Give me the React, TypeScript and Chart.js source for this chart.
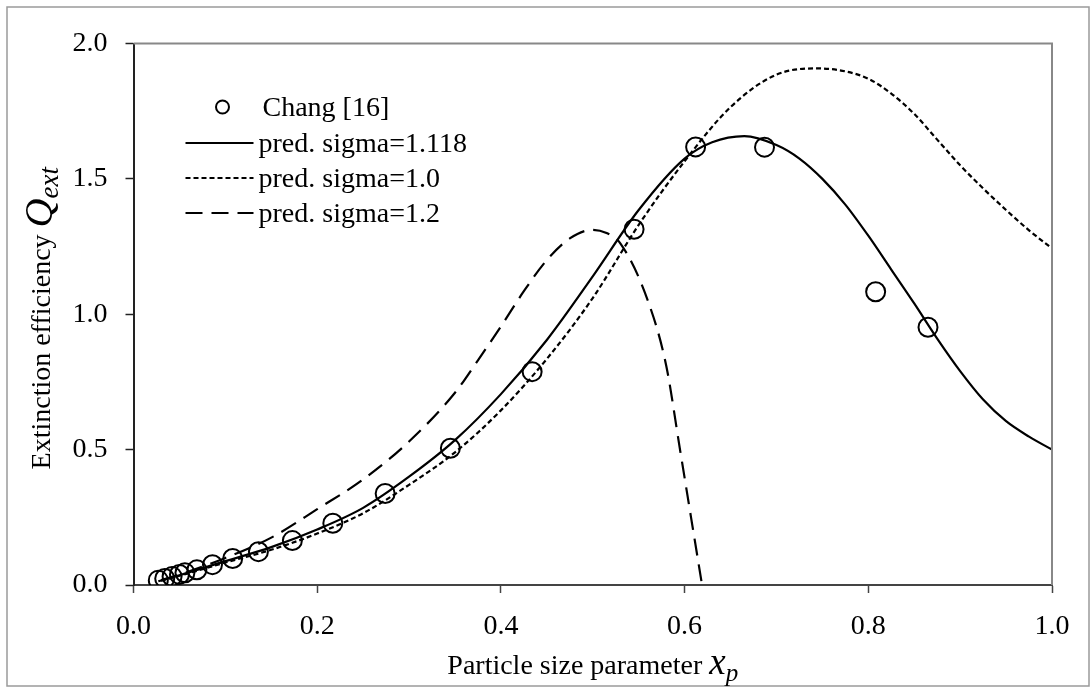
import React, { useEffect, useRef } from "react";
import { Chart, registerables } from "chart.js";

Chart.register(...registerables);

// Measured extinction efficiency (Chang [16])
const changX = [0.027, 0.034, 0.042, 0.05, 0.056, 0.069, 0.086, 0.108, 0.136, 0.173, 0.217, 0.274, 0.345, 0.434, 0.545, 0.612, 0.687, 0.808, 0.865];
const changQ = [0.018, 0.024, 0.031, 0.039, 0.045, 0.056, 0.075, 0.098, 0.123, 0.164, 0.228, 0.338, 0.505, 0.788, 1.314, 1.618, 1.617, 1.083, 0.952];

// Predicted curve, sigma = 1.118
const sig1118X = [0.027, 0.05, 0.1, 0.15, 0.2, 0.25, 0.3, 0.35, 0.4, 0.45, 0.5, 0.55, 0.6, 0.63, 0.665, 0.7, 0.725, 0.75, 0.775, 0.8, 0.825, 0.85, 0.875, 0.9, 0.925, 0.95, 0.975, 1.0];
const sig1118Q = [0.014, 0.036, 0.088, 0.14, 0.205, 0.285, 0.4, 0.535, 0.705, 0.905, 1.14, 1.385, 1.575, 1.635, 1.658, 1.625, 1.575, 1.5, 1.405, 1.29, 1.165, 1.04, 0.91, 0.79, 0.685, 0.605, 0.548, 0.5];

// Predicted curve, sigma = 1.0
const sig10X = [0.03, 0.05, 0.1, 0.15, 0.2, 0.25, 0.3, 0.35, 0.4, 0.45, 0.5, 0.55, 0.6, 0.65, 0.7, 0.745, 0.775, 0.8, 0.825, 0.85, 0.875, 0.9, 0.925, 0.95, 0.975, 1.0];
const sig10Q = [0.016, 0.034, 0.083, 0.13, 0.19, 0.265, 0.37, 0.49, 0.645, 0.835, 1.06, 1.33, 1.565, 1.765, 1.885, 1.908, 1.897, 1.87, 1.815, 1.74, 1.645, 1.55, 1.465, 1.385, 1.31, 1.243];

// Predicted curve, sigma = 1.2
const sig12X = [0.03, 0.05, 0.1, 0.15, 0.2, 0.25, 0.3, 0.35, 0.375, 0.4, 0.425, 0.45, 0.475, 0.5, 0.515, 0.53, 0.56, 0.58, 0.595, 0.607, 0.619];
const sig12Q = [0.018, 0.038, 0.1, 0.175, 0.28, 0.39, 0.53, 0.71, 0.83, 0.955, 1.085, 1.2, 1.28, 1.312, 1.3, 1.262, 1.05, 0.81, 0.5, 0.25, 0.0];

const seriesNames = ["Chang [16]", "pred. sigma=1.118", "pred. sigma=1.0", "pred. sigma=1.2"];
const xTickValues = [0, 0.2, 0.4, 0.6, 0.8, 1.0];
const yTickValues = [0, 0.5, 1.0, 1.5, 2.0];

const SERIF = '"Liberation Serif", "Times New Roman", serif';

const zip = (xs: number[], ys: number[]) => xs.map((x, i) => ({ x, y: ys[i] }));

const pagePlugin = {
  id: "pageDecor",
  beforeDraw(chart: any) {
    const { ctx, width, height } = chart;
    ctx.save();
    ctx.fillStyle = "#ffffff";
    ctx.fillRect(0, 0, width, height);
    ctx.restore();
  },
  afterDraw(chart: any) {
    const { ctx, chartArea } = chart;
    const { left, right, top, bottom } = chartArea;
    ctx.save();
    // outer frame
    ctx.strokeStyle = "#9a9a9a";
    ctx.lineWidth = 1.5;
    ctx.strokeRect(7, 7, 1082, 679);
    // plot-area border on top and right
    ctx.strokeStyle = "#888888";
    ctx.lineWidth = 2;
    ctx.beginPath();
    ctx.moveTo(left, top);
    ctx.lineTo(right, top);
    ctx.lineTo(right, bottom);
    ctx.stroke();

    ctx.fillStyle = "#000";
    ctx.textBaseline = "alphabetic";

    // x-axis title: "Particle size parameter x_p"
    const partsX = [
      { t: "Particle size parameter ", f: `28px ${SERIF}`, dy: 0 },
      { t: "x", f: `italic 37px ${SERIF}`, dy: 0 },
      { t: "p", f: `italic 25px ${SERIF}`, dy: 7 },
    ];
    let total = 0;
    partsX.forEach((p) => { ctx.font = p.f; total += ctx.measureText(p.t).width; });
    let cx = (left + right) / 2 - total / 2;
    const baseX = 674;
    partsX.forEach((p) => {
      ctx.font = p.f;
      ctx.fillText(p.t, cx, baseX + p.dy);
      cx += ctx.measureText(p.t).width;
    });

    // y-axis title: "Extinction efficiency Q_ext"
    const partsY = [
      { t: "Extinction efficiency ", f: `28px ${SERIF}`, dy: 0 },
      { t: "Q", f: `italic 40px ${SERIF}`, dy: 2 },
      { t: "ext", f: `italic 27px ${SERIF}`, dy: 8 },
    ];
    total = 0;
    partsY.forEach((p) => { ctx.font = p.f; total += ctx.measureText(p.t).width; });
    ctx.translate(50, (top + bottom) / 2 + 4);
    ctx.rotate(-Math.PI / 2);
    cx = -total / 2;
    partsY.forEach((p) => {
      ctx.font = p.f;
      ctx.fillText(p.t, cx, p.dy);
      cx += ctx.measureText(p.t).width;
    });
    ctx.restore();

    // legend inside the plot area
    const rows = [107, 143, 178, 213];
    const lineX0 = left + 52;
    const lineX1 = left + 120;
    const textX = left + 125;
    chart.data.datasets.forEach((ds: any, i: number) => {
      const y = rows[i];
      ctx.save();
      ctx.strokeStyle = "#000";
      ctx.lineWidth = 2;
      if (i === 0) {
        ctx.beginPath();
        ctx.arc((lineX0 + lineX1) / 2 + 3, y, 6.5, 0, Math.PI * 2);
        ctx.stroke();
      } else {
        ctx.setLineDash(ds.borderDash || []);
        ctx.beginPath();
        ctx.moveTo(lineX0, y);
        ctx.lineTo(lineX1, y);
        ctx.stroke();
      }
      ctx.setLineDash([]);
      ctx.fillStyle = "#000";
      ctx.font = `28px ${SERIF}`;
      ctx.textBaseline = "middle";
      ctx.fillText(ds.label, i === 0 ? textX + 4 : textX, y + 2);
      ctx.restore();
    });
  },
};

export default function App() {
  const canvasRef = useRef<HTMLCanvasElement | null>(null);

  useEffect(() => {
    document.body.style.margin = "0";
    const canvas = canvasRef.current;
    if (!canvas) return;

    const tickFont = { family: SERIF, size: 28 };

    const chart = new Chart(canvas, {
      type: "scatter",
      data: {
        datasets: [
          {
            label: seriesNames[0],
            data: zip(changX, changQ),
            showLine: false,
            pointStyle: "circle",
            pointRadius: 9.5,
            pointBorderWidth: 2,
            pointBorderColor: "#000",
            pointBackgroundColor: "rgba(0,0,0,0)",
            borderColor: "#000",
            order: 0,
          },
          {
            label: seriesNames[1],
            data: zip(sig1118X, sig1118Q),
            showLine: true,
            pointRadius: 0,
            borderColor: "#000",
            borderWidth: 2.2,
            cubicInterpolationMode: "monotone",
            order: 1,
          },
          {
            label: seriesNames[2],
            data: zip(sig10X, sig10Q),
            showLine: true,
            pointRadius: 0,
            borderColor: "#000",
            borderWidth: 2.2,
            borderDash: [5, 3],
            cubicInterpolationMode: "monotone",
            order: 2,
          },
          {
            label: seriesNames[3],
            data: zip(sig12X, sig12Q),
            showLine: true,
            pointRadius: 0,
            borderColor: "#000",
            borderWidth: 2.2,
            borderDash: [17, 9],
            cubicInterpolationMode: "monotone",
            order: 3,
          },
        ],
      },
      options: {
        responsive: false,
        devicePixelRatio: 1,
        animation: false,
        events: [],
        layout: { padding: { left: 0, right: 39, top: 43.5, bottom: 0 } },
        plugins: {
          legend: { display: false },
          tooltip: { enabled: false },
          title: { display: false },
        },
        scales: {
          x: {
            type: "linear",
            min: 0,
            max: 1,
            afterFit: (s: any) => { s.height = 102; },
            afterBuildTicks: (s: any) => { s.ticks = xTickValues.map((v) => ({ value: v })); },
            ticks: {
              font: tickFont,
              color: "#000",
              padding: 17,
              maxRotation: 0,
              callback: (v: any) => Number(v).toFixed(1),
            },
            grid: { display: true, drawOnChartArea: false, drawTicks: true, tickLength: 8, tickWidth: 1.5, tickColor: "#444" },
            border: { display: true, color: "#444", width: 2 },
          },
          y: {
            type: "linear",
            min: 0,
            max: 2,
            afterFit: (s: any) => { s.width = 133.5; },
            afterBuildTicks: (s: any) => { s.ticks = yTickValues.map((v) => ({ value: v })); },
            ticks: {
              font: tickFont,
              color: "#000",
              padding: 18,
              callback: (v: any) => Number(v).toFixed(1),
            },
            grid: { display: true, drawOnChartArea: false, drawTicks: true, tickLength: 8, tickWidth: 1.5, tickColor: "#222" },
            border: { display: true, color: "#222", width: 2 },
          },
        },
      },
      plugins: [pagePlugin],
    } as any);

    return () => chart.destroy();
  }, []);

  return (
    <div style={{ width: 1091, height: 687, overflow: "hidden" }}>
      <canvas ref={canvasRef} width={1091} height={687} style={{ display: "block" }} />
    </div>
  );
}
